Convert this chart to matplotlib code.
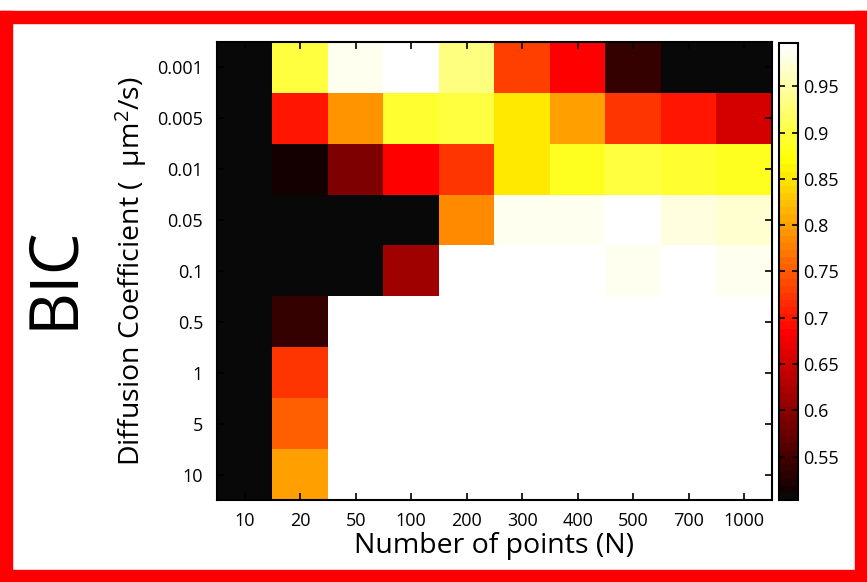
"""BIC heatmap: fraction correct vs. number of points and diffusion coefficient."""
import matplotlib
matplotlib.use("Agg")
import matplotlib.pyplot as plt
import numpy as np
from matplotlib.colors import ListedColormap
from matplotlib.patches import Rectangle

N_POINTS = ["10", "20", "50", "100", "200", "300", "400", "500", "700", "1000"]
DIFF_COEFS = ["0.001", "0.005", "0.01", "0.05", "0.1", "0.5", "1", "5", "10"]

# one list per diffusion coefficient row, values per N column
ROW_0001 = [0.505, 0.901, 0.985, 0.997, 0.931, 0.734, 0.683, 0.537, 0.505, 0.505]
ROW_0005 = [0.505, 0.698, 0.792, 0.892, 0.900, 0.858, 0.803, 0.726, 0.698, 0.653]
ROW_001 = [0.505, 0.514, 0.588, 0.683, 0.726, 0.858, 0.884, 0.900, 0.895, 0.888]
ROW_005 = [0.505, 0.505, 0.505, 0.505, 0.781, 0.985, 0.985, 0.997, 0.980, 0.970]
ROW_01 = [0.505, 0.505, 0.505, 0.613, 0.997, 0.997, 0.997, 0.987, 0.997, 0.987]
ROW_05 = [0.505, 0.537, 0.997, 0.997, 0.997, 0.997, 0.997, 0.997, 0.997, 0.997]
ROW_1 = [0.505, 0.720, 0.997, 0.997, 0.997, 0.997, 0.997, 0.997, 0.997, 0.997]
ROW_5 = [0.505, 0.751, 0.997, 0.997, 0.997, 0.997, 0.997, 0.997, 0.997, 0.997]
ROW_10 = [0.505, 0.802, 0.997, 0.997, 0.997, 0.997, 0.997, 0.997, 0.997, 0.997]

CBAR_TICKS = [0.55, 0.6, 0.65, 0.7, 0.75, 0.8, 0.85, 0.9, 0.95]
VMIN, VMAX = 0.503, 0.997

BORDER = "#ff0000"
FONT = "Open Sans"


def matlab_hot(n=64):
    nr = int(np.floor(3 * n / 8))
    nb = n - 2 * nr
    r = np.concatenate([np.arange(1, nr + 1) / nr, np.ones(n - nr)])
    g = np.concatenate([np.zeros(nr), np.arange(1, nr + 1) / nr, np.ones(nb)])
    b = np.concatenate([np.zeros(2 * nr), np.arange(1, nb + 1) / nb])
    rgb = np.column_stack([r, g, b])
    rgb[0] = (0.03, 0.035, 0.03)  # the exported figure shows a neutral black
    return ListedColormap(rgb)


def main():
    data = np.array([ROW_0001, ROW_0005, ROW_001, ROW_005, ROW_01,
                     ROW_05, ROW_1, ROW_5, ROW_10])

    plt.rcParams.update({
        "font.family": [FONT, "DejaVu Sans"],
        "mathtext.fontset": "custom",
        "mathtext.rm": FONT,
        "mathtext.it": FONT,
        "axes.linewidth": 1.5,
    })

    W, H = 867, 582
    fig = plt.figure(figsize=(W / 100, H / 100), dpi=100)
    fig.patch.set_facecolor("white")

    # red frame around the panel
    t = 12
    for x0, y0, w, h in [(0, 0, W, t), (0, H - 23, W, t),
                         (0, 0, t, H - 11), (W - t, 0, t, H - 11)]:
        fig.patches.append(Rectangle((x0 / W, y0 / H), w / W, h / H,
                                     transform=fig.transFigure,
                                     color=BORDER, zorder=0))

    ax = fig.add_axes([217 / W, 1 - 500 / H, 555 / W, 458 / H])
    im = ax.imshow(data, cmap=matlab_hot(), vmin=VMIN, vmax=VMAX,
                   aspect="auto", interpolation="nearest")
    ax.set_xticks(range(len(N_POINTS)))
    ax.set_xticklabels(N_POINTS, fontsize=13)
    ax.set_yticks(range(len(DIFF_COEFS)))
    ax.set_yticklabels(DIFF_COEFS, fontsize=13)
    ax.tick_params(direction="in", length=5, width=1.2, top=True, right=True)
    ax.tick_params(axis="y", pad=10)
    ax.tick_params(axis="x", pad=9)
    ax.set_xlabel("Number of points (N)", fontsize=20.5, labelpad=1)
    ax.set_ylabel(r"Diffusion Coefficient (  μm$^{2}$/s)", fontsize=20.5,
                  labelpad=6)

    cax = fig.add_axes([779 / W, 1 - 500 / H, 19 / W, 457 / H])
    cb = fig.colorbar(im, cax=cax, ticks=CBAR_TICKS)
    cb.ax.set_yticklabels([f"{v:g}" for v in CBAR_TICKS], fontsize=13)
    cb.ax.tick_params(direction="in", length=4, width=1.2, left=True,
                      right=True, pad=4)
    cb.outline.set_linewidth(1.5)

    fig.text(54 / W, 1 - 277 / H, "BIC", fontsize=48, rotation=90,
             ha="center", va="center")

    fig.savefig("out.png", dpi=100)


if __name__ == "__main__":
    main()
